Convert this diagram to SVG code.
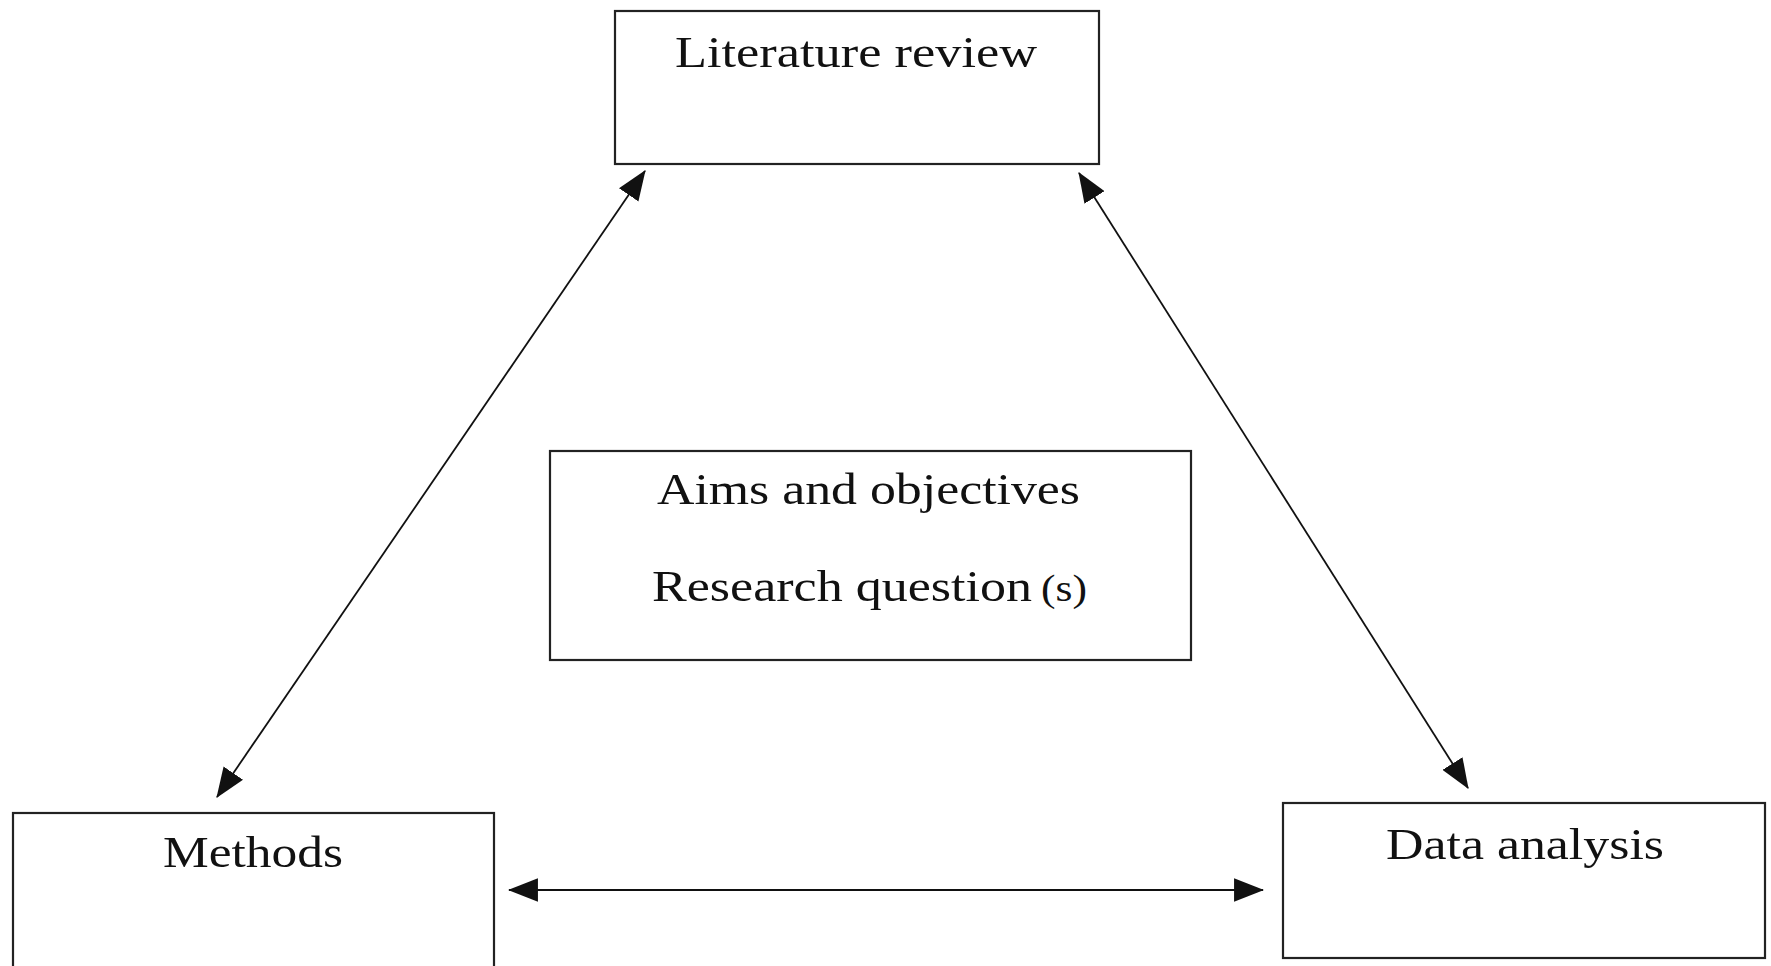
<svg xmlns="http://www.w3.org/2000/svg" width="1771" height="966" viewBox="0 0 1771 966">
<style>
.box{fill:#fff;stroke:#222;stroke-width:2.2}
.lbl{font-family:"Liberation Serif","Times New Roman",serif;font-size:45px;fill:#111}
.sm{font-family:"Liberation Serif","Times New Roman",serif;font-size:37px;fill:#111}
.con{stroke:#111;stroke-width:1.8;fill:none;marker-start:url(#ah);marker-end:url(#ah)}
</style>
<defs>
<marker id="ah" markerUnits="userSpaceOnUse" markerWidth="30" markerHeight="24" viewBox="0 0 28 22" refX="27" refY="11" orient="auto-start-reverse">
<path d="M0,0 L28,11 L0,22 Z" fill="#111"/>
</marker>
</defs>
<rect width="1771" height="966" fill="#fff"/>
<g id="literature-review">
<rect class="box" x="615" y="11" width="484" height="153"/>
<text class="lbl" x="675" y="67" textLength="362" lengthAdjust="spacingAndGlyphs">Literature review</text>
</g>
<g id="aims">
<rect class="box" x="550" y="451" width="641" height="209"/>
<text class="lbl" x="657" y="504" textLength="423" lengthAdjust="spacingAndGlyphs">Aims and objectives</text>
<text class="lbl" x="652" y="601" textLength="380" lengthAdjust="spacingAndGlyphs">Research question</text>
<text class="sm" x="1041" y="601" textLength="46" lengthAdjust="spacingAndGlyphs">(s)</text>
</g>
<g id="methods">
<rect class="box" x="13" y="813" width="481" height="170"/>
<text class="lbl" x="163" y="867" textLength="180" lengthAdjust="spacingAndGlyphs">Methods</text>
</g>
<g id="data-analysis">
<rect class="box" x="1283" y="803" width="482" height="155"/>
<text class="lbl" x="1386" y="859" textLength="278" lengthAdjust="spacingAndGlyphs">Data analysis</text>
</g>
<g id="connectors">
<line class="con" x1="645" y1="171" x2="217" y2="797"/>
<line class="con" x1="1079" y1="173" x2="1468" y2="788"/>
<line class="con" x1="509" y1="890" x2="1263" y2="890"/>
</g>
</svg>
